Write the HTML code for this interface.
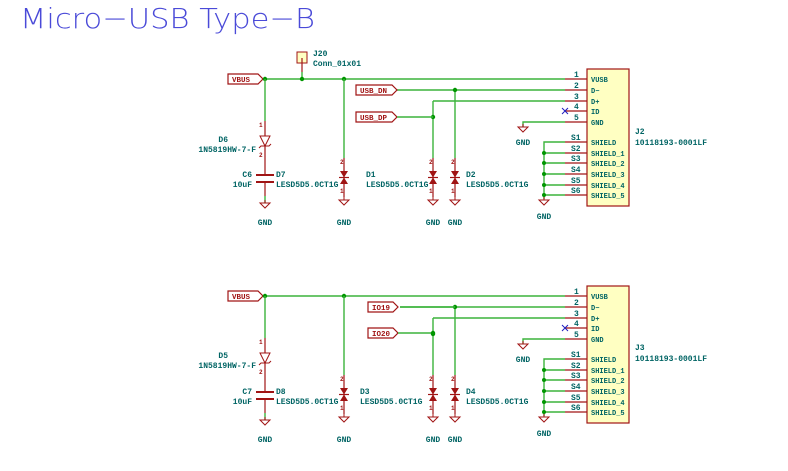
<!DOCTYPE html>
<html><head><meta charset="utf-8"><style>
html,body{margin:0;padding:0;background:#fff;width:788px;height:471px;overflow:hidden}
text{font-family:"Liberation Mono",monospace;font-weight:bold;font-size:8px;fill:#006464}
.w{stroke:#3cb43c;stroke-width:1.4;fill:none}
.p{stroke:#a01414;stroke-width:1.2;fill:none}
.r{fill:#a01414;font-size:6px}
.j{fill:#009600}
.g{stroke:#a01414;stroke-width:1;fill:none}
.lb{fill:#fff;stroke:#a01414;stroke-width:1.2}
.lt{fill:#a01414;font-size:7.5px}
.pn{font-size:7px}
</style></head><body>
<svg width="788" height="471" viewBox="0 0 788 471" xmlns="http://www.w3.org/2000/svg">
<text x="20" y="28" style="font-family:'DejaVu Sans','Liberation Sans',sans-serif;font-weight:200;font-size:28px;fill:#4a4ad8" textLength="295" lengthAdjust="spacingAndGlyphs">Micro−USB Type−B</text>

<defs>
<g id="gnd" class="g"><line x1="0" y1="0" x2="0" y2="3"/><polygon points="-5,3 5,3 0,8"/></g>
<g id="tvs">
 <line class="p" x1="0" y1="0" x2="0" y2="39"/>
 <polygon points="-4,13 4,13 0,19.5" fill="#a01414"/>
 <polygon points="-4,26 4,26 0,19.5" fill="#a01414"/>
 <line x1="-5" y1="19.5" x2="5" y2="19.5" stroke="#a01414" stroke-width="1.2"/>
 <text class="r" x="-4" y="6">2</text><text class="r" x="-4" y="35">1</text>
</g>
<g id="blk">
 <polygon class="lb" points="228,74 258,74 263,79 258,84 228,84"/>
 <text class="lt" x="232" y="82">VBUS</text>
 <line class="w" x1="263" y1="79" x2="565" y2="79"/>
 <circle class="j" cx="265" cy="79" r="2.2"/><circle class="j" cx="344" cy="79" r="2.2"/>
 <line class="w" x1="265" y1="79" x2="265" y2="121"/>
 <line class="p" x1="265" y1="121" x2="265" y2="160"/>
 <polygon points="260,136 270,136 265,146" fill="#fff" stroke="#a01414" stroke-width="1"/>
 <path d="M259,148 L261,146 L269,146 L271,144" fill="none" stroke="#a01414" stroke-width="1"/>
 <text class="r" x="259" y="127">1</text><text class="r" x="259" y="157">2</text>
 <line class="p" x1="265" y1="160" x2="265" y2="175"/>
 <line x1="256" y1="175" x2="274" y2="175" stroke="#a01414" stroke-width="2"/>
 <line x1="256" y1="182" x2="274" y2="182" stroke="#a01414" stroke-width="2"/>
 <line class="p" x1="265" y1="182" x2="265" y2="196"/>
 <line class="w" x1="265" y1="196" x2="265" y2="203"/>
 <use href="#gnd" x="265" y="200"/>
 <text x="265" y="225" text-anchor="middle">GND</text>
 <line class="w" x1="344" y1="79" x2="344" y2="158"/>
 <use href="#tvs" x="344" y="158"/>
 <use href="#gnd" x="344" y="197"/>
 <text x="344" y="225" text-anchor="middle">GND</text>
 <line class="w" x1="433" y1="101" x2="565" y2="101"/>
 <line class="w" x1="433" y1="101" x2="433" y2="158"/>
 <line class="w" x1="455" y1="90" x2="455" y2="158"/>
 <line class="w" x1="397" y1="90" x2="565" y2="90"/>
 <circle class="j" cx="455" cy="90" r="2.2"/>
 <circle class="j" cx="433" cy="117" r="2.2"/>
 <use href="#tvs" x="433" y="158"/><use href="#tvs" x="455" y="158"/>
 <use href="#gnd" x="433" y="197"/><use href="#gnd" x="455" y="197"/>
 <text x="433" y="225" text-anchor="middle">GND</text><text x="455" y="225" text-anchor="middle">GND</text>
 <text x="466" y="187">LESD5D5.0CT1G</text>
 <text x="276" y="187">LESD5D5.0CT1G</text>
 <path class="w" d="M523,127 L523,122 L565,122"/>
 <use href="#gnd" x="523" y="124"/>
 <text x="523" y="145" text-anchor="middle">GND</text>
 <rect x="587" y="69" width="42" height="137" fill="#ffffc2" stroke="#a01414" stroke-width="1.2"/>
 <g class="p">
  <line x1="565" y1="79" x2="587" y2="79"/><line x1="565" y1="90" x2="587" y2="90"/>
  <line x1="565" y1="101" x2="587" y2="101"/><line x1="565" y1="111" x2="587" y2="111"/>
  <line x1="565" y1="122" x2="587" y2="122"/>
  <line x1="565" y1="142" x2="587" y2="142"/><line x1="565" y1="153" x2="587" y2="153"/>
  <line x1="565" y1="163" x2="587" y2="163"/><line x1="565" y1="174" x2="587" y2="174"/>
  <line x1="565" y1="185" x2="587" y2="185"/><line x1="565" y1="195" x2="587" y2="195"/>
 </g>
 <g class="r">
  <text x="574" y="77">1</text><text x="574" y="88">2</text><text x="574" y="99">3</text>
  <text x="574" y="109">4</text><text x="574" y="120">5</text>
  <text x="571" y="140">S1</text><text x="571" y="151">S2</text><text x="571" y="161">S3</text>
  <text x="571" y="172">S4</text><text x="571" y="183">S5</text><text x="571" y="193">S6</text>
 </g>
 <g>
  <text class="pn" x="591" y="82">VUSB</text><text class="pn" x="591" y="93">D−</text><text class="pn" x="591" y="104">D+</text>
  <text class="pn" x="591" y="114">ID</text><text class="pn" x="591" y="125">GND</text>
  <text class="pn" x="591" y="145">SHIELD</text><text class="pn" x="591" y="156">SHIELD_1</text><text class="pn" x="591" y="166">SHIELD_2</text>
  <text class="pn" x="591" y="177">SHIELD_3</text><text class="pn" x="591" y="188">SHIELD_4</text><text class="pn" x="591" y="198">SHIELD_5</text>
 </g>
 <path d="M562,108 L568,114 M568,108 L562,114" stroke="#2020c0" stroke-width="1"/>
 <path class="w" d="M565,142 L544,142 L544,199 M544,153 L565,153 M544,163 L565,163 M544,174 L565,174 M544,185 L565,185 M544,195 L565,195"/>
 <circle class="j" cx="544" cy="153" r="2"/><circle class="j" cx="544" cy="163" r="2"/>
 <circle class="j" cx="544" cy="174" r="2"/><circle class="j" cx="544" cy="185" r="2"/>
 <circle class="j" cx="544" cy="195" r="2"/>
 <use href="#gnd" x="544" y="197"/>
 <text x="544" y="219" text-anchor="middle">GND</text>
</g>
</defs>

<use href="#blk"/>
<use href="#blk" y="217"/>

<rect x="297" y="52" width="10" height="11" fill="#ffffc2" stroke="#a01414" stroke-width="1"/>
<line class="p" x1="302" y1="58" x2="302" y2="72"/>
<line class="w" x1="302" y1="72" x2="302" y2="79"/>
<circle class="j" cx="302" cy="79" r="2.2"/>
<text x="313" y="56">J20</text><text x="313" y="66">Conn_01x01</text>
<polygon class="lb" points="356,85 392,85 397,90 392,95 356,95"/>
<text class="lt" x="360" y="93">USB_DN</text>
<polygon class="lb" points="356,112 392,112 397,117 392,122 356,122"/>
<text class="lt" x="360" y="120">USB_DP</text>
<line class="w" x1="397" y1="117" x2="433" y2="117"/>
<text x="228" y="142" text-anchor="end">D6</text><text x="256" y="152" text-anchor="end">1N5819HW-7-F</text>
<text x="252" y="177" text-anchor="end">C6</text>
<text x="252" y="187" text-anchor="end">10uF</text>
<text x="276" y="177">D7</text>
<text x="366" y="177">D1</text><text x="366" y="187">LESD5D5.0CT1G</text>
<text x="466" y="177">D2</text>
<text x="635" y="134">J2</text><text x="635" y="145">10118193-0001LF</text>

<rect x="355" y="301" width="45" height="11" fill="#fff"/>
<line class="w" x1="400" y1="307" x2="455" y2="307"/>
<polygon class="lb" points="368,302 393,302 398,307 393,312 368,312"/>
<text class="lt" x="372" y="310">IO19</text>
<polygon class="lb" points="368,328 393,328 398,333 393,338 368,338"/>
<text class="lt" x="372" y="336">IO20</text>
<line class="w" x1="398" y1="333" x2="433" y2="333"/>
<circle class="j" cx="433" cy="333" r="2.2"/>
<text x="228" y="358" text-anchor="end">D5</text><text x="256" y="368" text-anchor="end">1N5819HW-7-F</text>
<text x="252" y="394" text-anchor="end">C7</text>
<text x="252" y="404" text-anchor="end">10uF</text>
<text x="276" y="394">D8</text>
<text x="360" y="394">D3</text><text x="360" y="404">LESD5D5.0CT1G</text>
<text x="466" y="394">D4</text>
<text x="635" y="350">J3</text><text x="635" y="361">10118193-0001LF</text>
</svg>
</body></html>
